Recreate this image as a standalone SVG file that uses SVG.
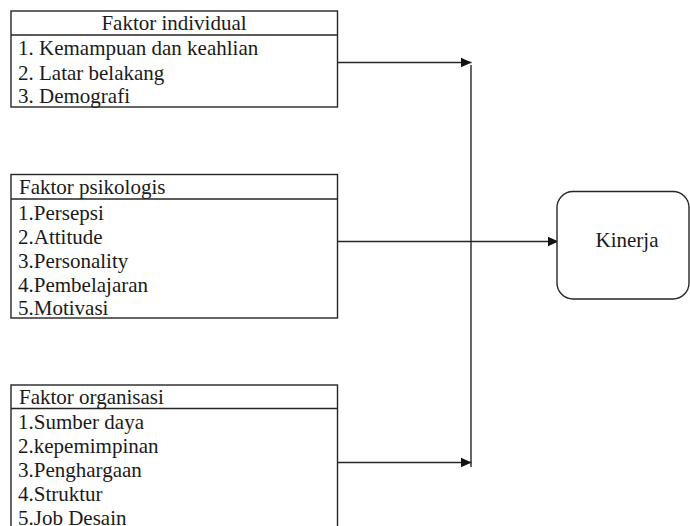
<svg xmlns="http://www.w3.org/2000/svg" width="690" height="526" viewBox="0 0 690 526">
<style>
.box{fill:#fff;stroke:#262626;stroke-width:1.4}
.sep{stroke:#262626;stroke-width:1.4}
.t{font-size:21px;fill:#1a1a1a}
.c{fill:none;stroke:#262626;stroke-width:1.4}
</style>
<defs>
<marker id="arr" markerUnits="userSpaceOnUse" markerWidth="12" markerHeight="12" viewBox="0 0 12 12" refX="11" refY="6" orient="auto">
<path d="M0,1 L11,6 L0,11 Z" fill="#111"/>
</marker>
</defs>
<rect width="690" height="526" fill="#fff"/>
<g id="connectors">
<line class="c" x1="337.5" y1="62.5" x2="471.5" y2="62.5" marker-end="url(#arr)"/>
<line class="c" x1="337.5" y1="241.5" x2="558.5" y2="241.5" marker-end="url(#arr)"/>
<line class="c" x1="337.5" y1="462.5" x2="471.5" y2="462.5" marker-end="url(#arr)"/>
<line class="c" x1="471" y1="65" x2="471" y2="467"/>
</g>
<g font-family="'Liberation Serif', 'DejaVu Serif', serif">
<g id="faktor-individual">
<rect class="box" x="11" y="11" width="326.5" height="96"/>
<line class="sep" x1="11" y1="35" x2="337.5" y2="35"/>
<text class="t" x="174" y="30" text-anchor="middle">Faktor individual</text>
<text class="t" x="18" y="55">1. Kemampuan dan keahlian</text>
<text class="t" x="18" y="80">2. Latar belakang</text>
<text class="t" x="18" y="103">3. Demografi</text>
</g>
<g id="faktor-psikologis">
<rect class="box" x="11" y="174.5" width="326.5" height="143.5"/>
<line class="sep" x1="11" y1="199" x2="337.5" y2="199"/>
<text class="t" x="19" y="193.5">Faktor psikologis</text>
<text class="t" x="18" y="220">1.Persepsi</text>
<text class="t" x="18" y="244">2.Attitude</text>
<text class="t" x="18" y="268">3.Personality</text>
<text class="t" x="18" y="292">4.Pembelajaran</text>
<text class="t" x="18" y="315">5.Motivasi</text>
</g>
<g id="faktor-organisasi">
<rect class="box" x="11" y="385" width="326.5" height="150"/>
<line class="sep" x1="11" y1="408.5" x2="337.5" y2="408.5"/>
<text class="t" x="19" y="403.5">Faktor organisasi</text>
<text class="t" x="18" y="429">1.Sumber daya</text>
<text class="t" x="18" y="453">2.kepemimpinan</text>
<text class="t" x="18" y="477">3.Penghargaan</text>
<text class="t" x="18" y="501">4.Struktur</text>
<text class="t" x="18" y="525">5.Job Desain</text>
</g>
<g id="kinerja">
<rect class="box" x="557" y="191.5" width="132" height="107.5" rx="16" ry="16"/>
<text class="t" x="627" y="247" text-anchor="middle">Kinerja</text>
</g>
</g>
</svg>
